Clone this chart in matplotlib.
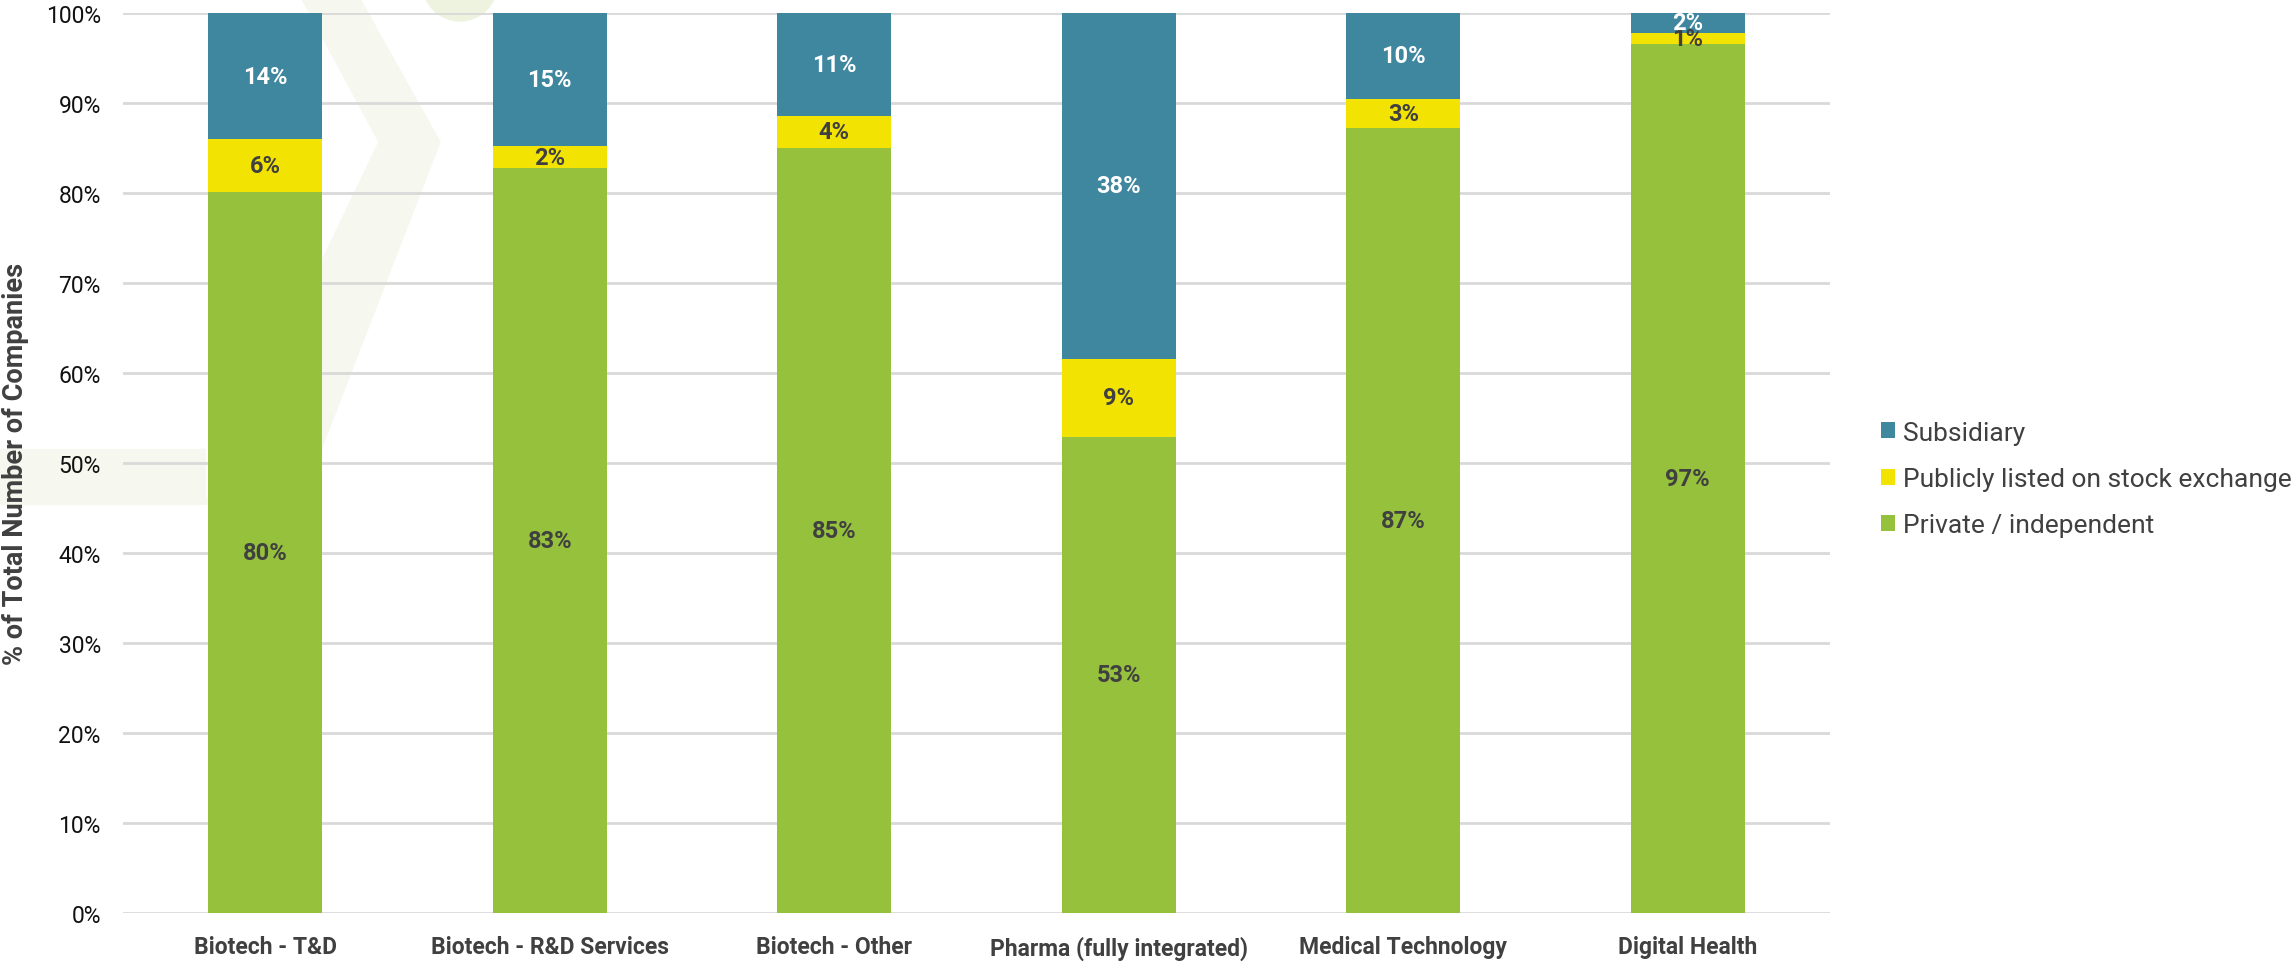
import matplotlib
matplotlib.use("Agg")
import matplotlib.pyplot as plt
from matplotlib.patches import Polygon, Circle, Rectangle
import numpy as np

plt.rcParams['font.family'] = ['Roboto', 'DejaVu Sans']

categories = ["Biotech - T&D", "Biotech - R&D Services", "Biotech - Other",
              "Pharma (fully integrated)", "Medical Technology", "Digital Health"]
private = [80.1, 82.8, 85.0, 52.9, 87.2, 96.6]
public = [5.9, 2.4, 3.6, 8.7, 3.3, 1.2]
subsidiary = [14.0, 14.8, 11.4, 38.4, 9.5, 2.2]

c_private = "#95C13D"
c_public = "#F3E303"
c_sub = "#3F879F"

fig = plt.figure(figsize=(22.95, 9.62), dpi=100)

# faint watermark logo behind the chart (figure pixel coords)
W, H = 2295, 962
wm = "#F6F7EF"
def px(x, y):
    return (x / W, 1 - y / H)
fig.patches.append(Rectangle(px(0, 505), 205 / W, 55 / H, transform=fig.transFigure,
                             color=wm, zorder=-5))
chev = [px(302, 0), px(360, 0), px(440, 143), px(300, 505), px(205, 505), px(379, 143)]
fig.patches.append(Polygon(chev, closed=True, transform=fig.transFigure, color=wm, zorder=-5))
fig.patches.append(Circle((460, H + 15), 37, transform=None, color="#EDF3DF", zorder=-5))

ax = fig.add_axes([0.0536, 0.0499, 0.7438, 0.9355])
ax.set_zorder(1)
ax.patch.set_alpha(0)

x = np.arange(len(categories))
w = 0.4
ax.bar(x, private, w, color=c_private, label="Private / independent", zorder=3)
ax.bar(x, public, w, bottom=private, color=c_public,
       label="Publicly listed on stock exchange", zorder=3)
bot2 = np.array(private) + np.array(public)
ax.bar(x, subsidiary, w, bottom=bot2, color=c_sub, label="Subsidiary", zorder=3)

for i in range(len(categories)):
    ax.text(x[i], private[i] / 2, "%d%%" % round(private[i]), ha="center", va="center",
            fontsize=17, fontweight="bold", color="#404040", zorder=4)
    ax.text(x[i], private[i] + public[i] / 2, "%d%%" % round(public[i]), ha="center",
            va="center", fontsize=17, fontweight="bold", color="#404040", zorder=4)
    ax.text(x[i], bot2[i] + subsidiary[i] / 2, "%d%%" % round(subsidiary[i]), ha="center",
            va="center", fontsize=17, fontweight="bold", color="white", zorder=4)

ax.set_xlim(-0.5, len(categories) - 0.5)
ax.set_ylim(0, 100)
ax.set_yticks(np.arange(0, 101, 10))
ax.set_yticklabels(["%d%%" % v for v in range(0, 101, 10)])
ax.set_xticks(x)
ax.set_xticklabels(categories, fontsize=16.5, fontweight="bold", color="#404040")
ax.tick_params(axis="y", labelsize=16.5, labelcolor="#111111", length=0, pad=16)
ax.tick_params(axis="x", length=0, pad=16)
ax.grid(axis="y", color="#D9D9D9", linewidth=2, zorder=0)
for s in ax.spines.values():
    s.set_visible(False)
ax.set_ylabel("% of Total Number of Companies", fontsize=19.5, fontweight="bold",
              color="#404040", labelpad=12)

h, l = ax.get_legend_handles_labels()
leg = fig.legend(h[::-1], l[::-1], loc="center left", bbox_to_anchor=(0.815, 0.501),
                 frameon=False, fontsize=19, handlelength=0.55, handleheight=0.55,
                 handletextpad=0.3, labelspacing=0.85, borderaxespad=0)
for t in leg.get_texts():
    t.set_color("#404040")

fig.savefig("out.png", dpi=100)
